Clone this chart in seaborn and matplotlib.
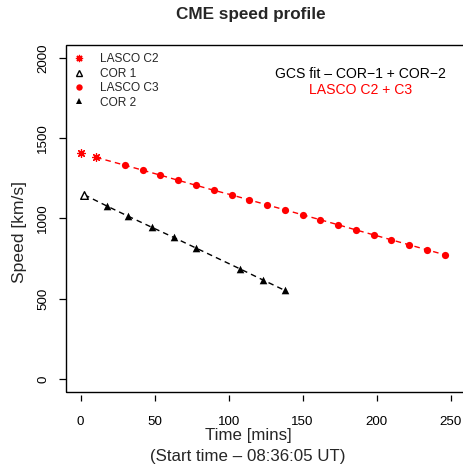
import matplotlib
matplotlib.use("Agg")
import matplotlib.pyplot as plt
from matplotlib.lines import Line2D
from matplotlib.patches import Rectangle
import seaborn as sns
import pandas as pd

# ---- data ----
lasco_c2_time = [0, 10.5]
lasco_c2_speed = [1405, 1380]

cor1_time = [2.5]
cor1_speed = [1147]

lasco_c3_time = [30, 42, 54, 66, 78, 90, 102, 114, 126, 138, 150, 162, 174,
                 186, 198, 210, 222, 234, 246]
lasco_c3_speed = [1331, 1300, 1269, 1237, 1206, 1175, 1146, 1115, 1084, 1053,
                  1022, 991, 960, 928, 897, 866, 835, 804, 773]

cor2_time = [18, 32, 48, 63, 78, 108, 123, 138]
cor2_speed = [1076, 1014, 945, 881, 815, 684, 617, 551]

x_ticks = [0, 50, 100, 150, 200, 250]
y_ticks = [0, 500, 1000, 1500, 2000]

title = "CME speed profile"
xlabel1 = "Time [mins]"
xlabel2 = "(Start time \u2013 08:36:05 UT)"
ylabel = "Speed [km/s]"
note1 = "GCS fit \u2013 COR\u22121 + COR\u22122"
note2 = "LASCO C2 + C3"
legend_labels = ["LASCO C2", "COR 1", "LASCO C3", "COR 2"]

# ---- style ----
sns.set_theme(style="white")
plt.rcParams["font.family"] = ["Liberation Sans", "DejaVu Sans"]

W, H = 463, 468
fig = plt.figure(figsize=(W / 100, H / 100), dpi=100)
left_px, right_px, top_px, bottom_px = 65.7, 465.5, 45.0, 391.7
ax = fig.add_axes([left_px / W, (H - bottom_px) / H,
                   (right_px - left_px) / W, (bottom_px - top_px) / H])

red = "#FF0000"
dash = (0, (4.0, 3.0))

red_line_df = pd.DataFrame({"t": lasco_c2_time[1:] + lasco_c3_time,
                            "v": lasco_c2_speed[1:] + lasco_c3_speed})
blk_line_df = pd.DataFrame({"t": cor1_time + cor2_time,
                            "v": cor1_speed + cor2_speed})
sns.lineplot(data=red_line_df, x="t", y="v", ax=ax, color=red, lw=1.0,
             ls=dash, estimator=None, sort=False)
sns.lineplot(data=blk_line_df, x="t", y="v", ax=ax, color="black", lw=1.0,
             ls=dash, estimator=None, sort=False)

asterisk = (8, 2, 0)
sns.scatterplot(x=lasco_c2_time, y=lasco_c2_speed, ax=ax, marker=asterisk,
                color=red, edgecolor=red, s=32, linewidth=0.9, zorder=5)
sns.scatterplot(x=lasco_c3_time, y=lasco_c3_speed, ax=ax, marker="o",
                color=red, s=27, linewidth=0, zorder=5)
sns.scatterplot(x=cor1_time, y=cor1_speed, ax=ax, marker="^",
                facecolor="white", edgecolor="black", s=30, linewidth=1.0,
                zorder=6)
sns.scatterplot(x=cor2_time, y=cor2_speed, ax=ax, marker="^",
                color="black", s=30, linewidth=0, zorder=5)

ax.set_xlim(-10, 260)
ax.set_ylim(-80, 2080)
ax.set_xticks(x_ticks)
ax.set_yticks(y_ticks)
ax.set_xlabel("")
ax.set_ylabel("")
for s in ax.spines.values():
    s.set_visible(False)
ax.spines["bottom"].set_position(("outward", 2.2))
ax.add_patch(Rectangle((0, 0), 1, 1, transform=ax.transAxes, fill=False,
                       lw=1.0, ec="black", clip_on=False, zorder=10))
ax.tick_params(axis="x", direction="out", length=4.3, width=0.9,
               colors="black", labelsize=9.6, pad=11.0, bottom=True)
ax.tick_params(axis="y", direction="out", length=5.3, width=0.9,
               colors="black", labelsize=9.6, pad=6.5, left=True)
for lab in ax.get_yticklabels():
    lab.set_rotation(90)
    lab.set_va("center")

# legend
handles = [
    Line2D([], [], ls="none", marker=asterisk, color=red, ms=5.2, mew=0.9),
    Line2D([], [], ls="none", marker="^", mfc="none", mec="black", ms=4.6, mew=1.0),
    Line2D([], [], ls="none", marker="o", color=red, ms=4.6, mew=0),
    Line2D([], [], ls="none", marker="^", color="black", ms=4.6, mew=0),
]
ax.legend(handles, legend_labels, loc="upper left",
          bbox_to_anchor=(73 / W, (H - 53.5) / H), bbox_transform=fig.transFigure,
          frameon=False, fontsize=8.6, handlelength=1.0, handletextpad=1.3,
          labelspacing=0.2, borderpad=0, borderaxespad=0)

fig.text(360.8 / W, (H - 74.3) / H, note1, ha="center", va="center",
         fontsize=10.1, color="black")
fig.text(360.8 / W, (H - 90.3) / H, note2, ha="center", va="center",
         fontsize=10.1, color=red)

fig.text(250.5 / W, (H - 15) / H, title, ha="center", va="center",
         fontsize=12.3, fontweight="bold")
fig.text(248 / W, (H - 435.3) / H, xlabel1, ha="center", va="center",
         fontsize=12.2)
fig.text(248 / W, (H - 456.5) / H, xlabel2, ha="center", va="center",
         fontsize=12.2)
fig.text(20 / W, (H - 232) / H, ylabel, ha="center", va="center",
         rotation=90, fontsize=12.6)

fig.savefig("out.png", dpi=100)
